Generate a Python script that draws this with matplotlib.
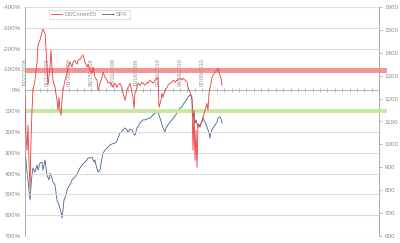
import numpy as np
import matplotlib
matplotlib.use("Agg")
from matplotlib import pyplot as plt

plt.rcParams['font.family'] = ['Liberation Sans', 'DejaVu Sans']

# sample index (trading-day steps)
red_t = [0, 1, 2, 3, 4, 5, 6, 7, 8, 10, 12, 13, 15, 17, 18, 20, 21, 22, 23, 25, 26, 27, 28,
         30, 32, 33, 34, 35, 36, 37, 38, 40, 42, 43, 45, 47, 48, 50, 52, 53, 55, 57, 58, 60,
         62, 63, 65, 67, 68, 70, 72, 73, 75, 77, 78, 80, 82, 83, 85, 87, 88, 90, 92, 93, 95,
         97, 98, 100, 102, 103, 105, 107, 108, 109, 110, 112, 113, 115, 117, 118, 120, 122,
         123, 125, 127, 128, 130, 132, 133, 134, 136, 137, 138, 140, 142, 143, 145, 147, 148,
         150, 152, 153, 155, 157, 158, 160, 162, 163, 165, 167, 168, 169, 170, 171, 172, 173,
         175, 177, 178, 180, 182, 183, 184, 186, 187, 188, 190, 192, 193, 194, 196, 197]
red_v = [24, 217, 289, 169, 337, 472, 241, 96, 0, -48, -130, -217, -241, -279, -294, -274,
         -202, -111, -24, -111, -193, -111, -48, -14, 48, 96, 34, 96, 120, 48, 0, -48, -82,
         -111, -135, -111, -135, -144, -125, -144, -149, -164, -169, -135, -111, -125, -96,
         -82, -111, -63, -48, 0, -34, -63, -87, -63, -48, -34, -39, -24, -14, -34, -14, -24,
         -34, -10, 14, 48, 0, -14, -34, 10, 34, 87, 14, -14, -34, -24, -39, -34, -24, -39,
         -34, -48, -39, -34, -48, -58, -63, 82, 48, 14, 34, 0, -14, -24, -34, -39, -48, -39,
         -48, -48, -58, -48, -58, -48, -39, -14, 10, 34, 289, 96, 337, 193, 371, 159, 178,
         144, 130, 96, 63, 96, 14, -34, -63, -72, -87, -96, -106, -87, -58, -24]

spx_t = [0, 1, 2, 3, 4, 5, 6, 7, 8, 10, 12, 13, 15, 17, 18, 20, 22, 24, 25, 27, 28, 30, 32,
         34, 36, 37, 38, 39, 41, 42, 44, 45, 47, 50, 52, 53, 55, 57, 59, 60, 62, 63, 65, 67,
         69, 70, 71, 73, 75, 77, 78, 80, 82, 84, 85, 87, 90, 92, 93, 95, 97, 98, 100, 102,
         103, 105, 107, 109, 110, 112, 115, 118, 120, 122, 125, 127, 130, 132, 133, 135, 137,
         138, 140, 141, 143, 145, 147, 150, 152, 155, 157, 159, 160, 162, 163, 165, 166, 167,
         168, 169, 170, 171, 173, 175, 177, 178, 180, 182, 184, 185, 186, 188, 190, 192, 193,
         195, 196, 197]
spx = [975, 932, 879, 845, 801, 757, 818, 866, 897, 879, 910, 888, 919, 923, 888, 932, 866,
       845, 875, 853, 836, 823, 757, 735, 705, 679, 713, 757, 779, 801, 818, 823, 845, 858,
       871, 879, 897, 910, 919, 923, 932, 941, 941, 945, 923, 932, 910, 879, 888, 941, 962,
       975, 984, 993, 997, 1002, 1006, 1015, 1028, 1050, 1058, 1063, 1072, 1063, 1054, 1067,
       1063, 1045, 1041, 1072, 1093, 1107, 1107, 1111, 1115, 1124, 1137, 1141, 1141, 1115,
       1085, 1072, 1054, 1072, 1085, 1098, 1107, 1124, 1137, 1159, 1163, 1181, 1185, 1198,
       1207, 1216, 1211, 1194, 1120, 1137, 1093, 1107, 1076, 1085, 1098, 1115, 1098, 1076,
       1050, 1028, 1054, 1072, 1085, 1098, 1115, 1120, 1111, 1093]

date_labels = ['10/27/2008', '01/12/2009', '03/30/2009', '06/15/2009', '08/31/2009',
               '11/16/2009', '02/01/2010', '04/19/2010', '07/05/2010']

red_band = (-105, -83)
green_band = (88, 110)

grey = '#8c8c8c'

fig = plt.figure(figsize=(4, 2.43), dpi=100)
ax = fig.add_axes([25 / 400, 1 - 236 / 243, 354 / 400, 229 / 243])
ax2 = ax.twinx()

ax.set_xlim(0, 354)
ax.set_ylim(700, -400)
ax2.set_ylim(600, 1600)

ax.set_yticks(np.arange(-400, 701, 100))
ax.set_yticklabels(['%d%%' % v for v in np.arange(-400, 701, 100)])
ax.yaxis.grid(True, color='#dcdcdc', lw=0.8)
ax.set_axisbelow(True)
ax.tick_params(axis='y', length=0, labelsize=4.5, labelcolor=grey, pad=3)

# category axis crossing at 0%
step = 354 / 48
ticks = np.arange(0, 354.1, step)
labels = [''] * len(ticks)
for i, lab in enumerate(date_labels):
    labels[i * 3] = lab
ax.spines['bottom'].set_visible(False)
ax.spines['top'].set_position(('data', 0))
ax.spines['top'].set_color('#b0b0b0')
ax.spines['top'].set_linewidth(0.6)
ax.xaxis.set_ticks_position('top')
ax.set_xticks(ticks)
ax.set_xticklabels(labels, rotation=90, fontsize=4, color=grey)
ax.tick_params(axis='x', direction='inout', length=3, width=0.5, color='#a0a0a0', pad=1.5)

ax.spines['left'].set_color('#a0a0a0')
ax.spines['left'].set_linewidth(0.6)
ax.spines['right'].set_visible(False)
for sp in ['top', 'bottom', 'left']:
    ax2.spines[sp].set_visible(False)
ax2.spines['right'].set_color('#a0a0a0')
ax2.spines['right'].set_linewidth(0.6)
ax2.set_yticks(np.arange(600, 1601, 100))
ax2.tick_params(axis='y', length=2, width=0.5, color='#a0a0a0', labelsize=4.5,
                labelcolor=grey, pad=2)

ax.axhspan(red_band[0], red_band[1], xmin=0, xmax=1.023, color='#f48484', alpha=0.85,
           lw=0, clip_on=False, zorder=1)
ax.axhspan(green_band[0], green_band[1], xmin=0, xmax=1.023, color='#c4e59c', alpha=0.9,
           lw=0, clip_on=False, zorder=1)

l2, = ax2.plot(spx_t, spx, color='#45628e', lw=0.6, label='SPX')
l1, = ax.plot(red_t, red_v, color='#ea3d3d', lw=0.6, label='DSCorem55', zorder=3)
ax.set_zorder(ax2.get_zorder() + 1)
ax.patch.set_visible(False)

leg = fig.legend([l1, l2], ['DSCorem55', 'SPX'], loc='center',
                 bbox_to_anchor=(0.223, 0.94), ncol=2, fontsize=4.2, frameon=True,
                 fancybox=False, handlelength=2.0, columnspacing=0.9, borderpad=0.35,
                 handletextpad=0.4)
leg.get_frame().set_edgecolor('#c8c8c8')
leg.get_frame().set_linewidth(0.5)
for txt in leg.get_texts():
    txt.set_color(grey)

fig.savefig('out.png', dpi=100)
